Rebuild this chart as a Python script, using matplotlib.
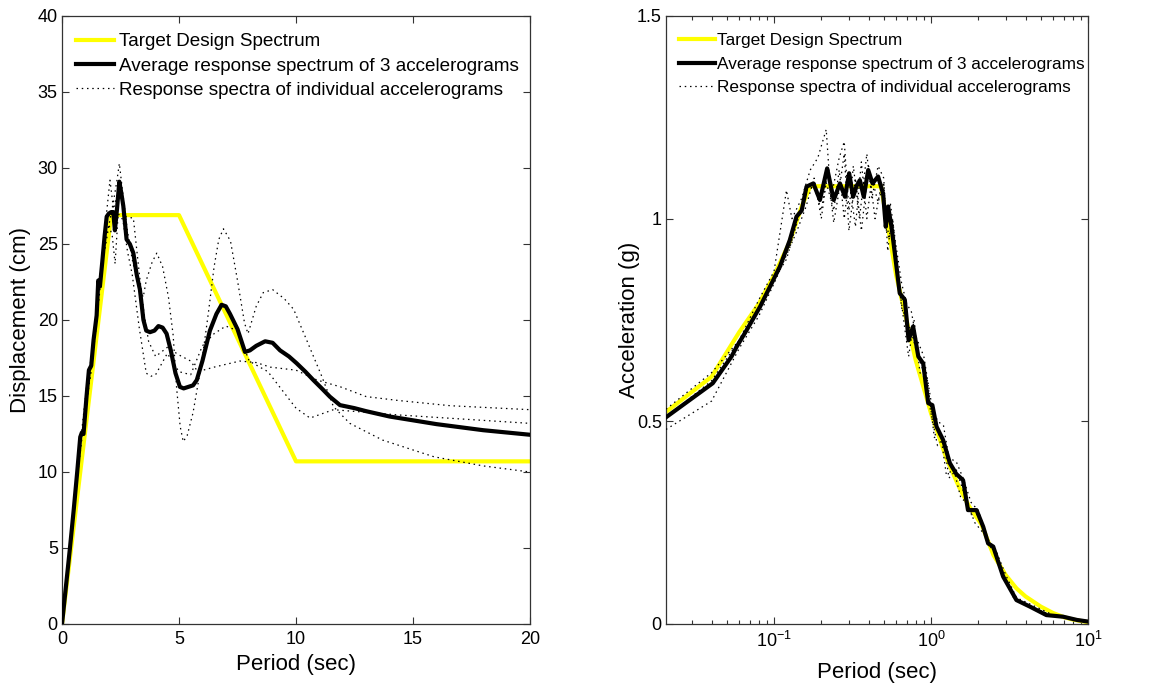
import matplotlib
matplotlib.use("Agg")
import matplotlib.pyplot as plt
from matplotlib.ticker import NullFormatter, LogLocator, FixedLocator

plt.rcParams['font.family'] = ['Liberation Sans', 'DejaVu Sans']
plt.rcParams['mathtext.default'] = 'regular'

# ---------------- Left panel: displacement spectra ----------------
period_target_d = [0, 2.1, 5, 10, 20]
disp_target = [0, 26.9, 26.9, 10.7, 10.7]

period_avg_d = [0, 0.15, 0.34, 0.5, 0.65, 0.78, 0.85, 0.92, 1.05, 1.15, 1.25, 1.35, 1.48,
                1.55, 1.62, 1.72, 1.82, 1.91, 2.0, 2.1, 2.19, 2.26, 2.35, 2.45, 2.53, 2.62,
                2.76, 2.9, 3.05, 3.19, 3.33, 3.48, 3.6, 3.76, 3.95, 4.12, 4.3, 4.47, 4.65,
                4.85, 5.04, 5.2, 5.4, 5.6, 5.76, 6.0, 6.32, 6.6, 6.82, 7.0, 7.18, 7.5, 7.82,
                8.03, 8.3, 8.68, 9.0, 9.32, 9.7, 10.03, 10.4, 10.74, 11.1, 11.45, 11.88,
                12.5, 13, 14, 15, 16, 17, 18, 19, 20]
disp_avg = [0, 2.2, 5.0, 7.5, 10.0, 12.3, 12.6, 12.5, 15.0, 16.7, 17.0, 18.7, 20.3,
            22.6, 22.2, 23.8, 25.5, 26.8, 27.0, 27.1, 27.1, 25.9, 27.3, 29.1, 28.4, 27.5,
            25.3, 25.0, 24.4, 23.0, 22.0, 20.0, 19.3, 19.2, 19.3, 19.6, 19.5, 19.1, 18.0,
            16.5, 15.6, 15.5, 15.6, 15.7, 16.05, 17.3, 19.3, 20.4, 21.0, 20.9, 20.4, 19.4,
            17.9, 18.0, 18.3, 18.6, 18.5, 18.0, 17.6, 17.15, 16.6, 16.05, 15.5, 14.95, 14.4,
            14.2, 14.0, 13.65, 13.4, 13.15, 12.95, 12.75, 12.6, 12.45]

period_d1 = [0, 0.34, 0.65, 0.85, 1.05, 1.25, 1.48, 1.62, 1.82, 2.0, 2.2, 2.35, 2.45, 2.6,
             2.8, 3.0, 3.2, 3.47, 3.6, 3.85, 4.05, 4.3, 4.55, 4.75, 4.9, 5.05, 5.18, 5.35,
             5.6, 5.97, 6.25, 6.5, 6.7, 6.9, 7.2, 7.5, 7.8, 7.95, 8.3, 8.6, 9.0, 9.5, 9.9,
             10.45, 11.1, 11.6, 12.3, 13.7, 15.9, 18, 20]
disp_d1 = [0, 5.2, 10.4, 12.8, 15.6, 17.5, 20.8, 22.9, 24.5, 26.2, 27.8, 29.2, 30.3, 28.3,
           25.8, 24.0, 22.6, 21.5, 22.6, 23.8, 24.4, 23.5, 21.5, 19.0, 15.5, 13.0, 12.0, 12.4,
           13.9, 17.2, 20.4, 23.5, 25.3, 26.0, 25.2, 22.6, 19.8, 19.1, 20.9, 21.8, 22.0, 21.4,
           20.7, 18.7, 16.3, 14.3, 13.2, 12.1, 11.0, 10.4, 10.0]

period_d2 = [0, 0.34, 0.65, 0.85, 1.05, 1.25, 1.48, 1.62, 1.82, 2.05, 2.2, 2.45, 2.7, 3.05,
             3.3, 3.5, 3.7, 4.0, 4.5, 5.0, 5.5, 5.8, 6.5, 7.6, 8.3, 8.9, 10.0, 10.9, 11.9,
             13.0, 14.4, 16.6, 20]
disp_d2 = [0, 4.6, 9.6, 12.2, 14.5, 16.8, 19.8, 22.0, 25.8, 29.2, 27.3, 28.8, 26.8, 26.7,
           23.1, 20.5, 18.6, 17.6, 18.2, 17.7, 17.3, 16.6, 16.9, 17.3, 17.2, 16.9, 16.7, 16.05,
           15.6, 14.96, 14.7, 14.36, 14.1]

period_d3 = [0, 0.34, 0.65, 0.85, 1.05, 1.25, 1.48, 1.62, 1.82, 2.0, 2.15, 2.27, 2.4, 2.6,
             2.8, 3.0, 3.3, 3.6, 3.8, 4.0, 4.5, 5.0, 5.5, 6.0, 6.5, 7.0, 7.5, 8.0, 8.8, 10.0,
             10.6, 11.6, 14.4, 20]
disp_d3 = [0, 5.1, 10.0, 12.5, 14.8, 16.7, 20.2, 22.5, 25.0, 26.3, 25.5, 23.7, 27.0, 26.6,
           24.5, 23.0, 19.5, 16.5, 16.3, 16.4, 17.8, 16.6, 16.4, 18.3, 19.1, 19.6, 19.3, 17.3,
           16.6, 14.2, 13.55, 14.1, 13.75, 13.2]

# ---------------- Right panel: acceleration spectra ----------------
period_target_a = [0.02, 0.04, 0.06, 0.08, 0.1, 0.125, 0.15, 0.17, 0.3, 0.48, 0.6, 0.8, 1.0,
                   1.25, 1.5, 1.75, 2.1, 2.5, 3.0, 3.5, 4.0, 5.0, 6.0, 7.0, 8.0, 10.0]
acc_target = [0.52, 0.61, 0.72, 0.79, 0.86, 0.94, 1.03, 1.08, 1.08, 1.08, 0.86, 0.65, 0.52,
              0.41, 0.34, 0.29, 0.245, 0.17, 0.12, 0.088, 0.068, 0.043, 0.027, 0.017, 0.011,
              0.0043]

period_avg_a = [0.0205, 0.0407, 0.0536, 0.0578, 0.0669, 0.0815, 0.095, 0.109, 0.126, 0.139,
                0.15, 0.161, 0.178, 0.196, 0.218, 0.24, 0.263, 0.283, 0.301, 0.319, 0.335,
                0.352, 0.373, 0.398, 0.424, 0.46, 0.495, 0.515, 0.533, 0.56, 0.588, 0.632,
                0.681, 0.72, 0.769, 0.83, 0.891, 0.96, 1.02, 1.084, 1.194, 1.318, 1.45, 1.6,
                1.72, 1.95, 2.15, 2.31, 2.49, 2.88, 3.5, 4.26, 5.43, 6.94, 8.5, 10]
acc_avg = [0.51, 0.594, 0.66, 0.684, 0.725, 0.783, 0.835, 0.882, 0.947, 1.005, 1.02, 1.079,
           1.087, 1.046, 1.124, 1.046, 1.087, 1.054, 1.112, 1.054, 1.08, 1.095, 1.054, 1.12,
           1.087, 1.104, 1.062, 0.98, 1.03, 0.98, 0.915, 0.816, 0.8, 0.7, 0.734, 0.66, 0.643,
           0.545, 0.54, 0.487, 0.454, 0.397, 0.37, 0.355, 0.281, 0.281, 0.24, 0.199, 0.191,
           0.117, 0.059, 0.043, 0.022, 0.018, 0.01, 0.006]

period_a1 = [0.0205, 0.04, 0.06, 0.08, 0.1, 0.12, 0.14, 0.16, 0.18, 0.2, 0.215, 0.24, 0.26,
             0.28, 0.3, 0.33, 0.36, 0.39, 0.42, 0.46, 0.5, 0.53, 0.56, 0.6, 0.65, 0.7, 0.75,
             0.8, 0.9, 1.0, 1.1, 1.2, 1.3, 1.45, 1.6, 1.8, 2.0, 2.3, 2.6, 3.0, 3.5, 4.5, 6, 8, 10]
acc_a1 = [0.48, 0.55, 0.68, 0.76, 0.84, 0.91, 0.97, 1.03, 1.1, 1.0, 1.09, 1.02, 1.12, 1.0,
          1.1, 0.98, 1.14, 1.0, 1.1, 1.04, 1.09, 0.92, 1.0, 0.9, 0.78, 0.75, 0.72, 0.68, 0.62,
          0.52, 0.44, 0.46, 0.36, 0.38, 0.33, 0.27, 0.27, 0.2, 0.17, 0.11, 0.06, 0.04, 0.02,
          0.012, 0.006]

period_a2 = [0.0205, 0.04, 0.06, 0.08, 0.1, 0.12, 0.13, 0.15, 0.17, 0.19, 0.215, 0.23, 0.26,
             0.28, 0.3, 0.32, 0.35, 0.39, 0.42, 0.46, 0.5, 0.52, 0.55, 0.6, 0.65, 0.7, 0.75,
             0.8, 0.9, 1.0, 1.1, 1.2, 1.3, 1.45, 1.6, 1.8, 2.0, 2.3, 2.6, 3.0, 3.5, 4.5, 6, 8, 10]
acc_a2 = [0.53, 0.62, 0.7, 0.8, 0.87, 1.07, 1.0, 1.05, 1.12, 1.15, 1.22, 1.05, 1.15, 1.19,
          1.02, 1.13, 1.0, 1.16, 1.05, 1.13, 1.1, 0.97, 1.04, 0.93, 0.84, 0.79, 0.77, 0.71,
          0.66, 0.55, 0.5, 0.49, 0.41, 0.4, 0.36, 0.3, 0.28, 0.21, 0.18, 0.12, 0.065, 0.045,
          0.022, 0.013, 0.007]

period_a3 = [0.0205, 0.04, 0.06, 0.08, 0.1, 0.12, 0.14, 0.16, 0.18, 0.2, 0.22, 0.24, 0.26,
             0.28, 0.3, 0.33, 0.36, 0.4, 0.44, 0.48, 0.52, 0.54, 0.57, 0.62, 0.68, 0.72, 0.78,
             0.85, 0.95, 1.05, 1.15, 1.25, 1.4, 1.55, 1.7, 1.9, 2.2, 2.5, 2.9, 3.4, 4.5, 6, 8, 10]
acc_a3 = [0.51, 0.6, 0.7, 0.78, 0.85, 0.9, 0.99, 1.07, 1.08, 1.02, 1.12, 0.99, 1.07, 1.16,
          0.97, 1.1, 0.97, 1.13, 1.0, 1.08, 1.0, 0.95, 1.0, 0.85, 0.73, 0.66, 0.75, 0.62, 0.6,
          0.46, 0.47, 0.37, 0.38, 0.31, 0.3, 0.25, 0.22, 0.18, 0.12, 0.06, 0.04, 0.02, 0.011,
          0.005]

legend_labels = ['Target Design Spectrum',
                 'Average response spectrum of 3 accelerograms',
                 'Response spectra of individual accelerograms']

YELLOW = '#ffff00'
LW_THICK = 3.0
DOT = (0, (1.2, 3.0))

W, H = 1158, 683
fig = plt.figure(figsize=(W / 100, H / 100), dpi=100)
ax1 = fig.add_axes([62 / W, 1 - 624 / H, 468 / W, 608 / H])
ax2 = fig.add_axes([666 / W, 1 - 624 / H, 422 / W, 608 / H])

# left
h1, = ax1.plot(period_target_d, disp_target, color=YELLOW, lw=LW_THICK, zorder=2)
h2, = ax1.plot(period_avg_d, disp_avg, color='black', lw=LW_THICK, zorder=3)
h3, = ax1.plot(period_d1, disp_d1, color='black', lw=0.9, ls=DOT, zorder=4)
ax1.plot(period_d2, disp_d2, color='black', lw=0.9, ls=DOT, zorder=4)
ax1.plot(period_d3, disp_d3, color='black', lw=0.9, ls=DOT, zorder=4)
ax1.set_xlim(0, 20)
ax1.set_ylim(0, 40)
ax1.set_xticks([0, 5, 10, 15, 20])
ax1.set_yticks(range(0, 41, 5))
ax1.set_xlabel('Period (sec)', fontsize=16)
ax1.set_ylabel('Displacement (cm)', fontsize=16)

# right
g1, = ax2.plot(period_target_a, acc_target, color=YELLOW, lw=LW_THICK, zorder=2)
g2, = ax2.plot(period_avg_a, acc_avg, color='black', lw=LW_THICK, zorder=3)
g3, = ax2.plot(period_a1, acc_a1, color='black', lw=0.9, ls=DOT, zorder=4)
ax2.plot(period_a2, acc_a2, color='black', lw=0.9, ls=DOT, zorder=4)
ax2.plot(period_a3, acc_a3, color='black', lw=0.9, ls=DOT, zorder=4)
ax2.set_xscale('log')
ax2.set_xlim(0.0205, 10)
ax2.set_ylim(0, 1.5)
ax2.set_yticks([0, 0.5, 1, 1.5])
ax2.set_yticklabels(['0', '0.5', '1', '1.5'])
ax2.xaxis.set_major_locator(FixedLocator([0.1, 1, 10]))
ax2.xaxis.set_minor_locator(LogLocator(base=10, subs=range(2, 10), numticks=20))
ax2.xaxis.set_minor_formatter(NullFormatter())
ax2.set_xlabel('Period (sec)', fontsize=16)
ax2.set_ylabel('Acceleration (g)', fontsize=16)

settings = [
    (ax1, (h1, h2, h3), 13.6, 2.0, 0.25, -0.0486, -0.066),
    (ax2, (g1, g2, g3), 12.4, 2.1, 0.15, -0.062, -0.061),
]
for ax, handles, lfs, hlen, hpad, xl_y, yl_x in settings:
    ax.tick_params(which='both', direction='in', top=True, right=True, labelsize=13,
                   width=0.8, color='#333333')
    ax.tick_params(which='major', length=5, pad=5)
    ax.tick_params(which='minor', length=3)
    ax.tick_params(axis='y', pad=3)
    for sp in ax.spines.values():
        sp.set_color('#333333')
        sp.set_linewidth(0.9)
    ax.xaxis.set_label_coords(0.5, xl_y)
    ax.yaxis.set_label_coords(yl_x, 0.5)
    ax.legend(handles, legend_labels, loc='upper left',
              bbox_to_anchor=(0.03, 0.972), frameon=False, fontsize=lfs,
              handlelength=hlen, handletextpad=hpad, labelspacing=0.5 if ax is ax2 else 0.38,
              borderpad=0, borderaxespad=0)

fig.savefig('out.png', dpi=100)
